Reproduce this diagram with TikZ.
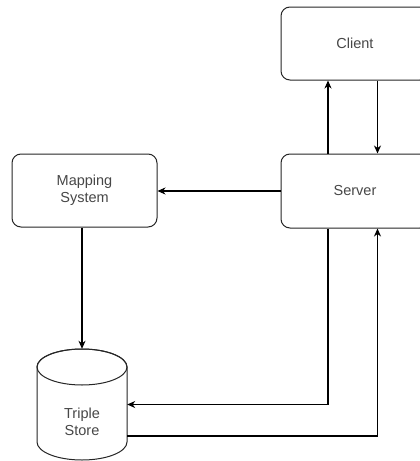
\documentclass[tikz,border=0pt]{standalone}
\usepackage{fontspec}
\setmainfont{Liberation Sans}
\usetikzlibrary{arrows.meta}
\begin{document}
\begin{tikzpicture}[x=1pt,y=-1pt,
  box/.style={draw=black!85, line width=1pt, rounded corners=9pt, fill=white,
    inner sep=0pt, text=black!72, font=\fontsize{14.5}{17}\selectfont, align=center},
  label/.style={text=black!72, font=\fontsize{14.5}{17}\selectfont, align=center, inner sep=0pt},
  link/.style={draw=black, line width=1.1pt, -{Stealth[length=8pt,width=7pt,inset=2.5pt]}}]
\useasboundingbox (0,0) rectangle (420,461);
\clip (0,0) rectangle (420,461);

% boxes
\node[box, minimum width=148pt, minimum height=73pt] (client) at (355,43.5) {Client};
\node[box, minimum width=148pt, minimum height=74pt] (server) at (355,191) {Server};
\node[box, minimum width=145pt, minimum height=73pt] (mapping) at (84.5,190.5) {Mapping\\System};

% triple store cylinder
\node[minimum width=90pt, minimum height=111pt, inner sep=0pt] (ts) at (82,404.5) {};
\draw[draw=black!85, line width=1pt, fill=white]
  (37,367) -- (37,442) arc[start angle=180, end angle=360, x radius=45pt, y radius=18pt]
  -- (127,367) arc[start angle=0, end angle=180, x radius=45pt, y radius=18pt] -- cycle;
\draw[draw=black!85, line width=1pt] (82,367) ellipse[x radius=45pt, y radius=18pt];
\node[label] (tslabel) at (82,421.5) {Triple\\Store};

% connectors
\draw[link] ([xshift=-27pt]server.north) -- ([xshift=-27pt]client.south);
\draw[link] ([xshift=22.5pt]client.south) -- ([xshift=22.5pt]server.north);
\draw[link] (server.west) -- (server.west -| mapping.east);
\draw[link] (mapping.south -| ts.north) -- (ts.north);
\draw[link] ([xshift=-27pt]server.south) |- (ts.east);
\draw[link] ([yshift=-31.5pt]ts.east) -| ([xshift=22.5pt]server.south);
\end{tikzpicture}
\end{document}
